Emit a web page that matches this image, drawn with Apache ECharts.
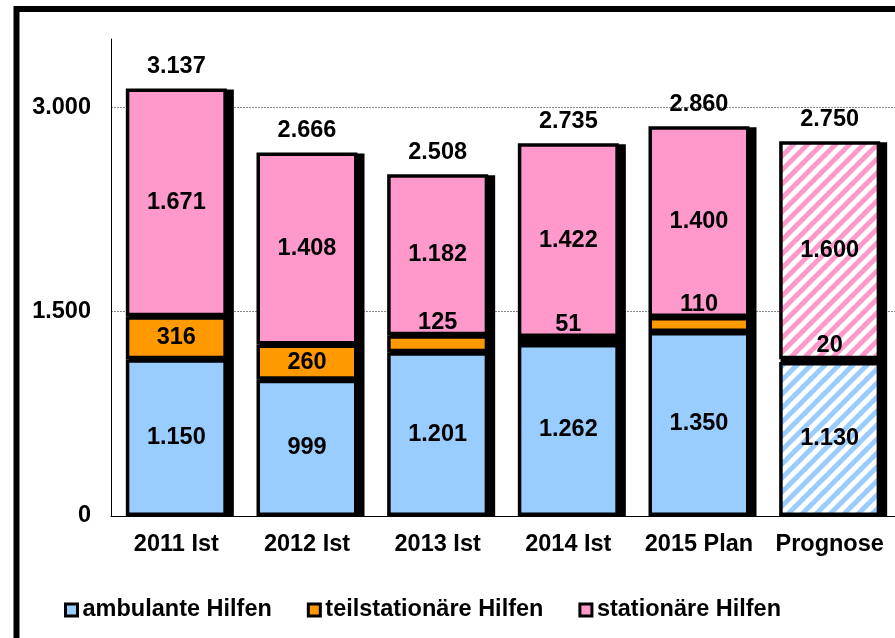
<!DOCTYPE html>
<html>
<head>
<meta charset="utf-8">
<script src="https://cdn.jsdelivr.net/npm/echarts@6/dist/echarts.min.js"></script>
<style>
html,body{margin:0;padding:0;background:#fff;}
#main{width:895px;height:638px;}
</style>
</head>
<body>
<div id="main"></div>
<script>
// Daten
var kategorien = ['2011 Ist', '2012 Ist', '2013 Ist', '2014 Ist', '2015 Plan', 'Prognose'];
var ambulant = [1150, 999, 1201, 1262, 1350, 1130];
var teilstationaer = [316, 260, 125, 51, 110, 20];
var stationaer = [1671, 1408, 1182, 1422, 1400, 1600];
var summen = [3137, 2666, 2508, 2735, 2860, 2750];
var yTicks = [0, 1500, 3000];

var FONT = 'Arial, "Liberation Sans", sans-serif';
var FS = 23.5;
var BW = 101;

// Zahl mit Tausenderpunkt
function fmt(v) {
    return String(v).replace(/\B(?=(\d{3})+(?!\d))/g, '.');
}

// schraffiertes Muster fuer Prognose
function streifen(farbe) {
    var n = 14;
    var c = document.createElement('canvas');
    c.width = n; c.height = n;
    var ctx = c.getContext('2d');
    ctx.fillStyle = '#fff';
    ctx.fillRect(0, 0, n, n);
    ctx.strokeStyle = farbe;
    ctx.lineWidth = 5;
    for (var k = -1; k <= 1; k++) {
        ctx.beginPath();
        ctx.moveTo(k * n - 2, n + 2);
        ctx.lineTo(k * n + n + 2, -2);
        ctx.stroke();
    }
    return {image: c, repeat: 'repeat'};
}

var farben = ['#99CCFF', '#FF9900', '#FF99CC'];
var prognoseIdx = kategorien.length - 1;

function reihe(name, werte, farbe, labelOben) {
    var daten = werte.map(function (v, i) {
        var d = {value: v};
        if (i === prognoseIdx && name !== 'teilstationäre Hilfen') {
            d.itemStyle = {color: streifen(farbe)};
        }
        if (labelOben && v < 200) {
            d.label = {position: 'top', distance: 1};
        }
        return d;
    });
    return {
        name: name,
        type: 'bar',
        stack: 'a',
        barWidth: BW,
        z: 3,
        data: daten,
        itemStyle: {color: farbe, borderColor: '#000', borderWidth: 3.5},
        label: {
            show: true,
            position: 'inside',
            color: '#000',
            fontFamily: FONT,
            fontWeight: 'bold',
            fontSize: FS,
            formatter: function (p) { return fmt(p.value); }
        },
        emphasis: {disabled: true}
    };
}

// Schatten hinter den Saeulen
var schattenDaten = kategorien.map(function (k, i) {
    return [i, ambulant[i] + teilstationaer[i] + stationaer[i]];
});

var chart = echarts.init(document.getElementById('main'));

var option = {
    backgroundColor: '#fff',
    animation: false,
    graphic: [{
        type: 'rect',
        shape: {x: 16.5, y: 9, width: 900, height: 700},
        style: {fill: 'none', stroke: '#000', lineWidth: 6},
        silent: true,
        z: 100
    }],
    grid: {left: 111, top: 39, width: 792, bottom: 122, containLabel: false},
    legend: {
        data: ['ambulante Hilfen', 'teilstationäre Hilfen', 'stationäre Hilfen'],
        left: 59,
        top: 593,
        icon: 'rect',
        itemWidth: 12,
        itemHeight: 12,
        itemGap: 35,
        itemStyle: {borderColor: '#000', borderWidth: 3},
        textStyle: {fontFamily: FONT, fontWeight: 'bold', fontSize: FS, color: '#000'}
    },
    xAxis: {
        type: 'category',
        data: kategorien,
        axisLine: {lineStyle: {color: '#000', width: 1}},
        axisTick: {show: false},
        axisLabel: {interval: 0, color: '#000', fontFamily: FONT, fontWeight: 'bold', fontSize: FS, margin: 17}
    },
    yAxis: {
        type: 'value',
        min: 0,
        max: 3500,
        interval: 1500,
        axisLine: {show: true, lineStyle: {color: '#000', width: 1}},
        axisTick: {show: false},
        axisLabel: {
            color: '#000', fontFamily: FONT, fontWeight: 'bold', fontSize: FS, margin: 20,
            showMaxLabel: false,
            formatter: function (v) { return yTicks.indexOf(v) >= 0 ? fmt(v) : ''; }
        },
        splitLine: {
            show: true,
            lineStyle: {color: ['rgba(0,0,0,0)', '#888', '#888', 'rgba(0,0,0,0)'], type: [2, 1], width: 1}
        }
    },
    series: [
        {
            name: 'Schatten',
            type: 'custom',
            z: 1,
            silent: true,
            data: schattenDaten,
            renderItem: function (params, api) {
                var oben = api.coord([api.value(0), api.value(1)]);
                var unten = api.coord([api.value(0), 0]);
                var x = oben[0] - BW / 2 - 2 + 5;
                return {
                    type: 'rect',
                    shape: {x: x, y: oben[1] - 2 + 3, width: BW + 4, height: unten[1] - oben[1] - 1},
                    style: {fill: '#000'}
                };
            }
        },
        reihe('ambulante Hilfen', ambulant, farben[0], false),
        reihe('teilstationäre Hilfen', teilstationaer, farben[1], true),
        reihe('stationäre Hilfen', stationaer, farben[2], false),
        {
            name: 'Summe',
            type: 'bar',
            stack: 'a',
            barWidth: BW,
            z: 3,
            data: summen.map(function () { return 0; }),
            itemStyle: {color: 'rgba(0,0,0,0)', borderWidth: 0},
            label: {
                show: true,
                position: 'top',
                distance: 10,
                color: '#000',
                fontFamily: FONT,
                fontWeight: 'bold',
                fontSize: FS,
                formatter: function (p) { return fmt(summen[p.dataIndex]); }
            },
            silent: true
        }
    ]
};

chart.setOption(option);
</script>
</body>
</html>
